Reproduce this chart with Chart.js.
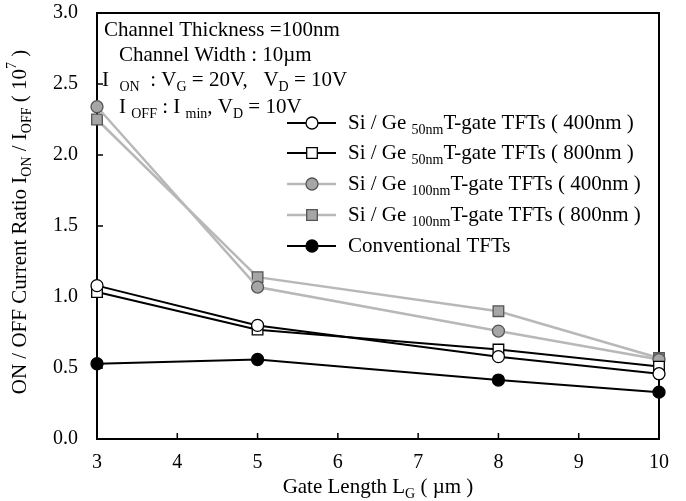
<!DOCTYPE html>
<html>
<head>
<meta charset="utf-8">
<script src="https://cdn.jsdelivr.net/npm/chart.js@4.4.0/dist/chart.umd.min.js"></script>
<style>
    html, body { margin: 0; padding: 0; background: #fff; }
</style>
</head>
<body>
<canvas id="ratioChart" width="686" height="501"></canvas>
<script>
const gateLength = [3, 5, 8, 10];
const siGe50_400 = [1.08, 0.80, 0.58, 0.46];
const siGe50_800 = [1.035, 0.77, 0.63, 0.51];
const siGe100_400 = [2.34, 1.07, 0.76, 0.56];
const siGe100_800 = [2.25, 1.14, 0.90, 0.57];
const conventional = [0.53, 0.56, 0.415, 0.33];
const xTicks = [3, 4, 5, 6, 7, 8, 9, 10];
const yTicks = [0, 0.5, 1.0, 1.5, 2.0, 2.5, 3.0];

const SERIF = "'Liberation Serif', 'Times New Roman', serif";
const GREY_LINE = '#b8b8b8';
const GREY_FILL = '#a6a6a6';
const SUB = 0.69;

const pts = (ys) => gateLength.map((x, i) => ({ x: x, y: ys[i] }));

// legend rows: label pieces, 'n' normal, 'sub' subscript
const legendLabels = [
    [['Si / Ge ', 'n'], ['50nm', 'sub'], ['T-gate TFTs ( 400nm )', 'n']],
    [['Si / Ge ', 'n'], ['50nm', 'sub'], ['T-gate TFTs ( 800nm )', 'n']],
    [['Si / Ge ', 'n'], ['100nm', 'sub'], ['T-gate TFTs ( 400nm )', 'n']],
    [['Si / Ge ', 'n'], ['100nm', 'sub'], ['T-gate TFTs ( 800nm )', 'n']],
    [['Conventional TFTs', 'n']]
];

function drawRich(ctx, x, y, parts, size) {
    let cx = x;
    parts.forEach(([txt, kind]) => {
        const s = kind === 'n' ? size : Math.round(size * SUB);
        const dy = kind === 'sub' ? size * 0.34 : kind === 'sup' ? -size * 0.36 : 0;
        ctx.font = s + 'px ' + SERIF;
        ctx.fillText(txt, cx, y + dy);
        cx += ctx.measureText(txt).width;
    });
    return cx - x;
}

function richWidth(ctx, parts, size) {
    let w = 0;
    parts.forEach(([txt, kind]) => {
        const s = kind === 'n' ? size : Math.round(size * SUB);
        ctx.font = s + 'px ' + SERIF;
        w += ctx.measureText(txt).width;
    });
    return w;
}

function marker(ctx, ds, x, y) {
    ctx.save();
    ctx.fillStyle = ds.pointBackgroundColor;
    ctx.strokeStyle = ds.pointBorderColor;
    ctx.lineWidth = ds.pointBorderWidth;
    Chart.helpers.drawPoint(ctx, {
        pointStyle: ds.pointStyle,
        radius: ds.pointRadius,
        rotation: 0,
        borderWidth: ds.pointBorderWidth
    }, x, y);
    ctx.restore();
}

const framePlugin = {
    id: 'frame',
    beforeDatasetsDraw(chart) {
        const { ctx, chartArea: a, scales } = chart;
        ctx.save();
        ctx.strokeStyle = '#000';
        ctx.lineWidth = 2;
        ctx.strokeRect(a.left, a.top, a.right - a.left, a.bottom - a.top);
        ctx.lineWidth = 1.5;
        ctx.beginPath();
        xTicks.slice(1, -1).forEach(v => {
            const px = scales.x.getPixelForValue(v);
            ctx.moveTo(px, a.bottom);
            ctx.lineTo(px, a.bottom - 6);
        });
        yTicks.slice(1, -1).forEach(v => {
            const py = scales.y.getPixelForValue(v);
            ctx.moveTo(a.left, py);
            ctx.lineTo(a.left + 6, py);
        });
        ctx.stroke();
        ctx.restore();
    },
    afterDraw(chart) {
        const { ctx, chartArea: a } = chart;
        ctx.save();
        ctx.fillStyle = '#000';
        ctx.textBaseline = 'middle';
        ctx.textAlign = 'left';

        // conditions text
        drawRich(ctx, 104, 30, [['Channel Thickness =100nm', 'n']], 21);
        drawRich(ctx, 119, 55, [['Channel Width : 10\u00b5m', 'n']], 21);
        drawRich(ctx, 102, 80, [['I  ', 'n'], ['ON', 'sub'], ['  : V', 'n'], ['G', 'sub'],
            [' = 20V,   V', 'n'], ['D', 'sub'], [' = 10V', 'n']], 21);
        drawRich(ctx, 119, 107, [['I ', 'n'], ['OFF', 'sub'], [' : I ', 'n'], ['min', 'sub'],
            [', V', 'n'], ['D', 'sub'], [' = 10V', 'n']], 21);

        // legend
        const rowsY = [123, 153, 184, 215, 246];
        chart.data.datasets.forEach((ds, i) => {
            const y = rowsY[i];
            ctx.save();
            ctx.strokeStyle = ds.borderColor;
            ctx.lineWidth = ds.borderWidth;
            ctx.beginPath();
            ctx.moveTo(287, y);
            ctx.lineTo(336, y);
            ctx.stroke();
            ctx.restore();
            marker(ctx, ds, 312, y);
            ctx.fillStyle = '#000';
            drawRich(ctx, 348, y, legendLabels[i], 21);
        });

        // x axis title
        const xt = [['Gate Length L', 'n'], ['G', 'sub'], [' ( \u00b5m )', 'n']];
        const xw = richWidth(ctx, xt, 21);
        drawRich(ctx, (a.left + a.right) / 2 - xw / 2, 487, xt, 21);

        // y axis title
        const yt = [['ON / OFF Current Ratio I', 'n'], ['ON', 'sub'], [' / I', 'n'], ['OFF', 'sub'],
            [' ( 10', 'n'], ['7', 'sup'], [' )', 'n']];
        const yw = richWidth(ctx, yt, 21);
        ctx.translate(20, 222);
        ctx.rotate(-Math.PI / 2);
        drawRich(ctx, -yw / 2, 0, yt, 21);
        ctx.restore();
    }
};

function series(ys, lineColor, style, fill, edge, radius, width) {
    return {
        data: pts(ys),
        borderColor: lineColor,
        borderWidth: width,
        pointStyle: style,
        pointRadius: radius,
        pointHoverRadius: radius,
        pointBackgroundColor: fill,
        pointBorderColor: edge,
        pointBorderWidth: 1.3,
        tension: 0,
        clip: false
    };
}

const ctx = document.getElementById('ratioChart').getContext('2d');
new Chart(ctx, {
    type: 'line',
    data: {
        datasets: [
            series(siGe50_400, '#000', 'circle', '#fff', '#000', 6, 2),
            series(siGe50_800, '#000', 'rect', '#fff', '#000', 7.5, 2),
            series(siGe100_400, GREY_LINE, 'circle', GREY_FILL, '#555', 6, 2.5),
            series(siGe100_800, GREY_LINE, 'rect', GREY_FILL, '#555', 7.5, 2.5),
            series(conventional, '#000', 'circle', '#000', '#000', 6, 2)
        ]
    },
    plugins: [framePlugin],
    options: {
        responsive: false,
        animation: false,
        events: [],
        layout: { padding: { left: 0, top: 13, right: 27, bottom: 0 } },
        plugins: {
            legend: { display: false },
            tooltip: { enabled: false }
        },
        scales: {
            x: {
                type: 'linear',
                min: 3,
                max: 10,
                grid: { display: false },
                border: { display: false },
                afterFit: (s) => { s.height = 62; s.paddingLeft = 0; s.paddingRight = 0; },
                afterBuildTicks: (s) => { s.ticks = xTicks.map(v => ({ value: v })); },
                ticks: {
                    padding: 4,
                    color: '#000',
                    font: { family: SERIF, size: 20 },
                    callback: (v) => String(v)
                }
            },
            y: {
                min: 0,
                max: 3,
                grid: { display: false },
                border: { display: false },
                afterFit: (s) => { s.width = 97; s.paddingTop = 0; s.paddingBottom = 0; },
                afterBuildTicks: (s) => { s.ticks = yTicks.map(v => ({ value: v })); },
                ticks: {
                    padding: 11,
                    color: '#000',
                    font: { family: SERIF, size: 20 },
                    callback: (v) => Number(v).toFixed(1)
                }
            }
        }
    }
});
</script>
</body>
</html>
